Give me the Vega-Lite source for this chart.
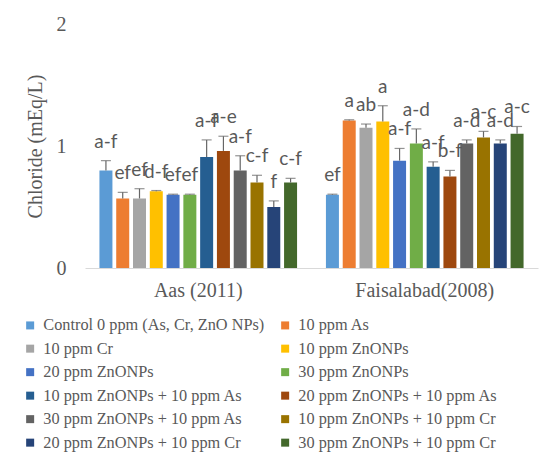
{
  "$schema": "https://vega.github.io/schema/vega-lite/v6.json",
  "width": 453,
  "height": 244,
  "autosize": {"type": "none"},
  "padding": {"left": 85, "top": 24, "right": 8, "bottom": 191},
  "background": "white",
  "config": {"view": {"stroke": null}},
  "data": {
    "values": [
      {"site": "Aas (2011)", "treatment": "Control 0 ppm (As, Cr, ZnO NPs)", "value": 0.80, "upper": 0.88, "label": "a-f"},
      {"site": "Aas (2011)", "treatment": "10 ppm As", "value": 0.57, "upper": 0.62, "label": "ef"},
      {"site": "Aas (2011)", "treatment": "10 ppm Cr", "value": 0.57, "upper": 0.65, "label": "ef"},
      {"site": "Aas (2011)", "treatment": "10 ppm ZnONPs", "value": 0.63, "upper": 0.635, "label": "d-f"},
      {"site": "Aas (2011)", "treatment": "20 ppm ZnONPs", "value": 0.60, "upper": 0.605, "label": "ef"},
      {"site": "Aas (2011)", "treatment": "30 ppm ZnONPs", "value": 0.60, "upper": 0.605, "label": "ef"},
      {"site": "Aas (2011)", "treatment": "10 ppm ZnONPs + 10 ppm As", "value": 0.91, "upper": 1.05, "label": "a-f"},
      {"site": "Aas (2011)", "treatment": "20 ppm ZnONPs + 10 ppm As", "value": 0.96, "upper": 1.08, "label": "a-e"},
      {"site": "Aas (2011)", "treatment": "30 ppm ZnONPs + 10 ppm As", "value": 0.80, "upper": 0.92, "label": "a-f"},
      {"site": "Aas (2011)", "treatment": "10 ppm ZnONPs + 10 ppm Cr", "value": 0.70, "upper": 0.76, "label": "c-f"},
      {"site": "Aas (2011)", "treatment": "20 ppm ZnONPs + 10 ppm Cr", "value": 0.50, "upper": 0.55, "label": "f"},
      {"site": "Aas (2011)", "treatment": "30 ppm ZnONPs + 10 ppm Cr", "value": 0.70, "upper": 0.735, "label": "c-f"},
      {"site": "Faisalabad(2008)", "treatment": "Control 0 ppm (As, Cr, ZnO NPs)", "value": 0.60, "upper": 0.605, "label": "ef"},
      {"site": "Faisalabad(2008)", "treatment": "10 ppm As", "value": 1.21, "upper": 1.215, "label": "a"},
      {"site": "Faisalabad(2008)", "treatment": "10 ppm Cr", "value": 1.15, "upper": 1.18, "label": "ab"},
      {"site": "Faisalabad(2008)", "treatment": "10 ppm ZnONPs", "value": 1.20, "upper": 1.33, "label": "a"},
      {"site": "Faisalabad(2008)", "treatment": "20 ppm ZnONPs", "value": 0.88, "upper": 0.98, "label": "a-f"},
      {"site": "Faisalabad(2008)", "treatment": "30 ppm ZnONPs", "value": 1.02, "upper": 1.14, "label": "a-d"},
      {"site": "Faisalabad(2008)", "treatment": "10 ppm ZnONPs + 10 ppm As", "value": 0.83, "upper": 0.87, "label": "a-f"},
      {"site": "Faisalabad(2008)", "treatment": "20 ppm ZnONPs + 10 ppm As", "value": 0.75, "upper": 0.80, "label": "b-f"},
      {"site": "Faisalabad(2008)", "treatment": "30 ppm ZnONPs + 10 ppm As", "value": 1.02, "upper": 1.05, "label": "a-d"},
      {"site": "Faisalabad(2008)", "treatment": "10 ppm ZnONPs + 10 ppm Cr", "value": 1.07, "upper": 1.12, "label": "a-c"},
      {"site": "Faisalabad(2008)", "treatment": "20 ppm ZnONPs + 10 ppm Cr", "value": 1.02, "upper": 1.05, "label": "a-d"},
      {"site": "Faisalabad(2008)", "treatment": "30 ppm ZnONPs + 10 ppm Cr", "value": 1.10, "upper": 1.16, "label": "a-c"}
    ]
  },
  "encoding": {
    "x": {
      "field": "site", "type": "nominal", "sort": ["Aas (2011)", "Faisalabad(2008)"],
      "scale": {"paddingInner": 0, "paddingOuter": 0},
      "axis": {
        "title": null, "labelAngle": 0, "ticks": false, "domainColor": "#d9d9d9", "domainWidth": 1,
        "labelFont": "Liberation Serif", "labelFontSize": 20, "labelColor": "#595959", "labelPadding": 12
      }
    },
    "xOffset": {
      "field": "treatment", "type": "nominal",
      "sort": ["Control 0 ppm (As, Cr, ZnO NPs)", "10 ppm As", "10 ppm Cr", "10 ppm ZnONPs", "20 ppm ZnONPs", "30 ppm ZnONPs", "10 ppm ZnONPs + 10 ppm As", "20 ppm ZnONPs + 10 ppm As", "30 ppm ZnONPs + 10 ppm As", "10 ppm ZnONPs + 10 ppm Cr", "20 ppm ZnONPs + 10 ppm Cr", "30 ppm ZnONPs + 10 ppm Cr"],
      "scale": {"paddingInner": 0.226, "paddingOuter": 0.86}
    }
  },
  "layer": [
    {
      "mark": {"type": "bar"},
      "encoding": {
        "y": {
          "field": "value", "type": "quantitative",
          "scale": {"domain": [0, 2], "nice": false},
          "axis": {
            "title": "Chloride (mEq/L)", "values": [0, 1, 2], "labelExpr": "'' + datum.value", "labelOverlap": false, "grid": false, "domain": false, "ticks": false,
            "labelFont": "Liberation Serif", "labelFontSize": 20, "labelColor": "#595959", "labelPadding": 19,
            "titleFont": "Liberation Serif", "titleFontSize": 20, "titleFontWeight": "normal", "titleColor": "#595959", "titlePadding": 11
          }
        },
        "color": {
          "field": "treatment", "type": "nominal",
          "scale": {
            "domain": ["Control 0 ppm (As, Cr, ZnO NPs)", "10 ppm As", "10 ppm Cr", "10 ppm ZnONPs", "20 ppm ZnONPs", "30 ppm ZnONPs", "10 ppm ZnONPs + 10 ppm As", "20 ppm ZnONPs + 10 ppm As", "30 ppm ZnONPs + 10 ppm As", "10 ppm ZnONPs + 10 ppm Cr", "20 ppm ZnONPs + 10 ppm Cr", "30 ppm ZnONPs + 10 ppm Cr"],
            "range": ["#5B9BD5", "#ED7D31", "#A5A5A5", "#FFC000", "#4472C4", "#70AD47", "#255E91", "#9E480E", "#636363", "#997300", "#264478", "#43682B"]
          },
          "legend": {
            "title": null, "orient": "none", "direction": "horizontal", "legendX": -63, "legendY": 293, "columns": 2,
            "symbolType": "square", "symbolSize": 64, "symbolStrokeWidth": 0, "labelOffset": 5,
            "labelFont": "Liberation Serif", "labelFontSize": 16.3, "labelColor": "#595959",
            "rowPadding": 6.5, "columnPadding": 12, "labelLimit": 400
          }
        }
      }
    },
    {
      "mark": {"type": "rule", "color": "#666666", "strokeWidth": 1.2},
      "encoding": {"y": {"field": "value", "type": "quantitative"}, "y2": {"field": "upper"}}
    },
    {
      "mark": {"type": "tick", "color": "#666666", "size": 10, "thickness": 1.2, "orient": "horizontal"},
      "encoding": {"y": {"field": "upper", "type": "quantitative"}}
    },
    {
      "mark": {"type": "text", "font": "Lato", "fontSize": 19, "color": "#595959", "baseline": "alphabetic", "dy": -13},
      "encoding": {"y": {"field": "upper", "type": "quantitative"}, "text": {"field": "label"}}
    }
  ]
}
